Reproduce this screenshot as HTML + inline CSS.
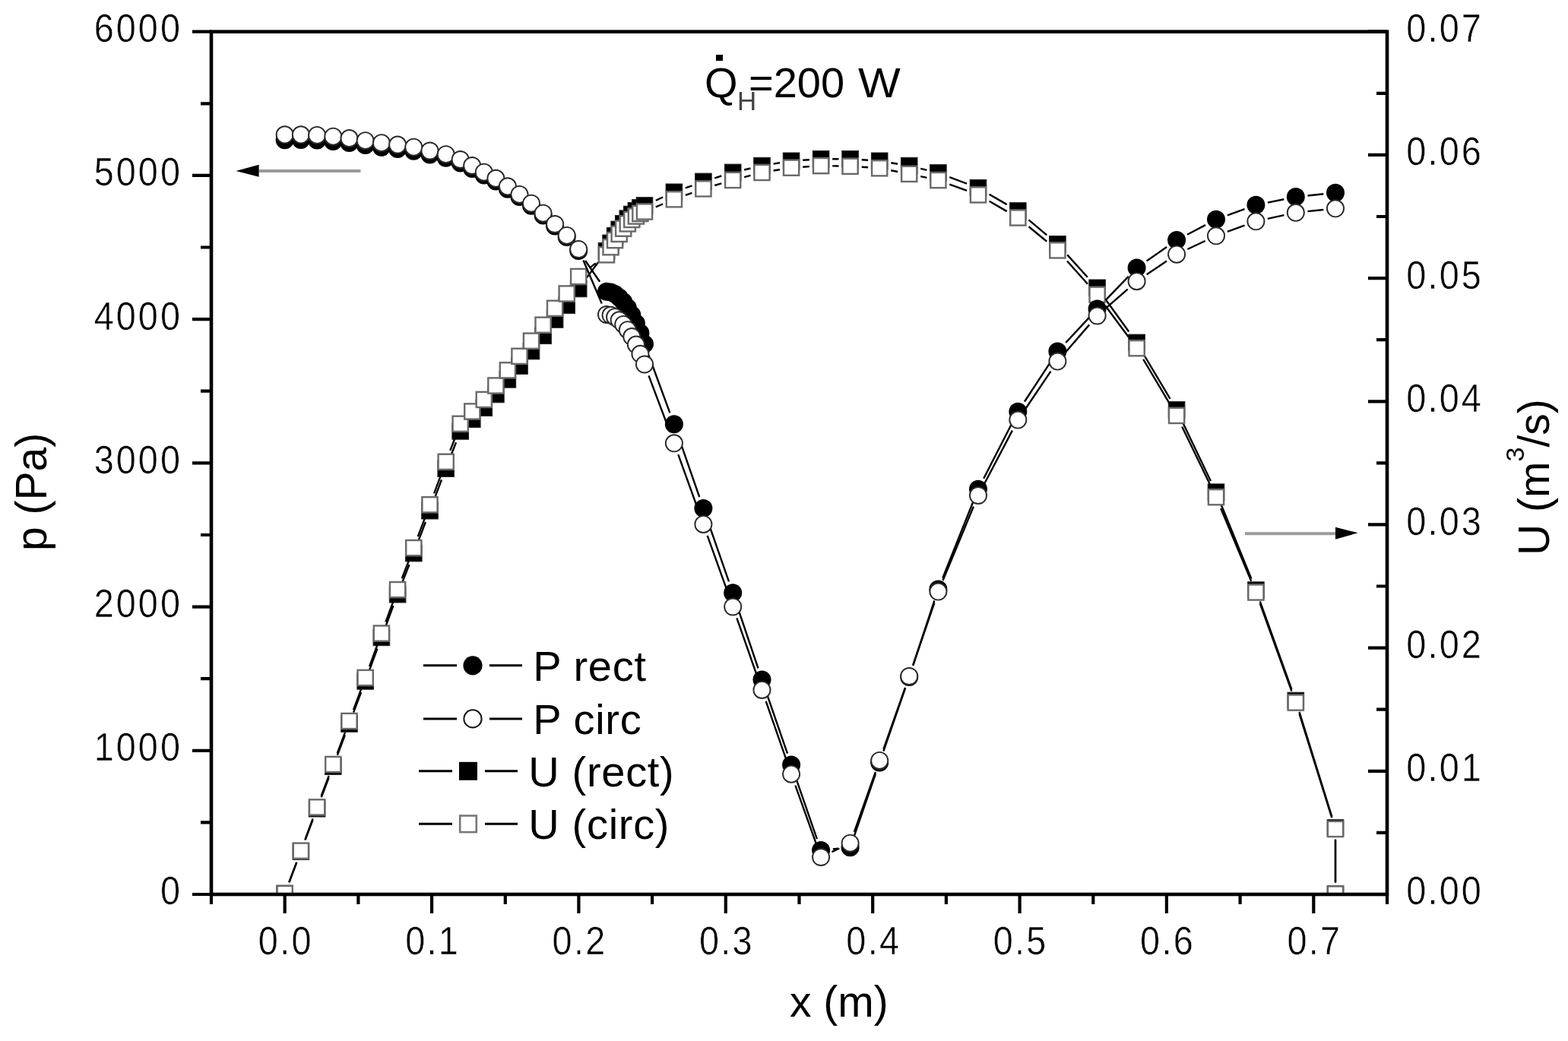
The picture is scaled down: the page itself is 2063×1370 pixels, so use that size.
<!DOCTYPE html>
<html><head><meta charset="utf-8"><title>Q_H = 200 W</title>
<style>html,body{margin:0;padding:0;background:#fff;}svg{display:block;}</style>
</head><body>
<svg width="2063" height="1370" viewBox="0 0 2063 1370">
<rect width="2063" height="1370" fill="#fff"/>
<defs><clipPath id="pa"><rect x="278.0" y="41.7" width="1547.0" height="1135.3"/></clipPath></defs>
<g clip-path="url(#pa)">
<path d="M380.4 1161.2L390.2 1135.4M401.5 1105.7L411.5 1079.0M422.8 1049.3L432.6 1023.5M443.9 993.8L453.9 967.4M465.1 937.7L475.1 911.2M486.2 881.5L496.4 853.7M507.5 824.0L517.5 797.1M528.9 767.4L538.5 743.0M549.9 713.3L559.9 687.0M571.2 657.3L581.0 631.4M592.4 601.7L600.0 582.2M771.8 365.6L787.4 344.7M862.8 263.8L872.1 259.5M901.8 247.4L910.5 244.3M940.3 234.3L949.3 231.5M979.2 223.5L987.5 221.5M1017.6 215.6L1026.0 214.3M1056.2 210.8L1065.0 210.3M1095.2 209.3L1103.5 209.3M1133.7 210.3L1142.1 210.8M1172.3 214.2L1181.1 215.7M1211.2 221.8L1219.4 223.8M1249.3 233.1L1272.1 241.7M1301.6 255.7L1324.7 269.1M1353.5 289.4L1377.2 309.4M1404.2 335.4L1430.8 364.7M1454.0 393.2L1485.2 436.5M1504.2 465.5L1539.5 524.8M1555.2 554.1L1592.9 633.0M1606.0 662.5L1646.4 761.8M1657.8 791.5L1699.4 907.1M1709.5 936.9L1752.3 1074.6M1757.0 1104.6L1757.0 1161.4" stroke="#000" stroke-width="2.4" fill="none"/>
<g fill="#000" stroke="#222" stroke-width="1"><rect x="363.9" y="1165.2" width="21.6" height="21.6"/><rect x="385.1" y="1109.8" width="21.6" height="21.6"/><rect x="406.3" y="1053.4" width="21.6" height="21.6"/><rect x="427.5" y="997.8" width="21.6" height="21.6"/><rect x="448.7" y="941.7" width="21.6" height="21.6"/><rect x="469.9" y="885.6" width="21.6" height="21.6"/><rect x="491.1" y="828.1" width="21.6" height="21.6"/><rect x="512.3" y="771.4" width="21.6" height="21.6"/><rect x="533.5" y="717.3" width="21.6" height="21.6"/><rect x="554.7" y="661.4" width="21.6" height="21.6"/><rect x="575.9" y="605.8" width="21.6" height="21.6"/><rect x="594.9" y="556.6" width="21.6" height="21.6"/><rect x="610.5" y="540.9" width="21.6" height="21.6"/><rect x="626.0" y="525.9" width="21.6" height="21.6"/><rect x="641.6" y="508.2" width="21.6" height="21.6"/><rect x="657.1" y="488.6" width="21.6" height="21.6"/><rect x="672.7" y="470.8" width="21.6" height="21.6"/><rect x="688.2" y="451.3" width="21.6" height="21.6"/><rect x="703.8" y="431.0" width="21.6" height="21.6"/><rect x="719.3" y="409.7" width="21.6" height="21.6"/><rect x="734.9" y="391.0" width="21.6" height="21.6"/><rect x="750.4" y="369.2" width="21.6" height="21.6"/><rect x="787.2" y="319.5" width="21.6" height="21.6"/><rect x="792.8" y="309.1" width="21.6" height="21.6"/><rect x="798.3" y="299.6" width="21.6" height="21.6"/><rect x="803.9" y="291.1" width="21.6" height="21.6"/><rect x="809.4" y="283.5" width="21.6" height="21.6"/><rect x="815.0" y="276.9" width="21.6" height="21.6"/><rect x="820.5" y="271.2" width="21.6" height="21.6"/><rect x="826.1" y="266.4" width="21.6" height="21.6"/><rect x="831.6" y="262.6" width="21.6" height="21.6"/><rect x="837.2" y="259.7" width="21.6" height="21.6"/><rect x="876.1" y="242.0" width="21.6" height="21.6"/><rect x="914.6" y="228.1" width="21.6" height="21.6"/><rect x="953.4" y="216.1" width="21.6" height="21.6"/><rect x="991.7" y="207.3" width="21.6" height="21.6"/><rect x="1030.3" y="201.0" width="21.6" height="21.6"/><rect x="1069.3" y="198.5" width="21.6" height="21.6"/><rect x="1107.8" y="198.5" width="21.6" height="21.6"/><rect x="1146.4" y="201.0" width="21.6" height="21.6"/><rect x="1185.4" y="207.3" width="21.6" height="21.6"/><rect x="1223.6" y="216.7" width="21.6" height="21.6"/><rect x="1276.2" y="236.5" width="21.6" height="21.6"/><rect x="1328.5" y="266.7" width="21.6" height="21.6"/><rect x="1380.6" y="310.5" width="21.6" height="21.6"/><rect x="1432.8" y="368.0" width="21.6" height="21.6"/><rect x="1484.8" y="440.1" width="21.6" height="21.6"/><rect x="1537.3" y="528.6" width="21.6" height="21.6"/><rect x="1589.2" y="636.9" width="21.6" height="21.6"/><rect x="1641.6" y="765.8" width="21.6" height="21.6"/><rect x="1694.0" y="911.2" width="21.6" height="21.6"/><rect x="1746.2" y="1078.7" width="21.6" height="21.6"/><rect x="1746.2" y="1165.7" width="21.6" height="21.6"/></g>
<path d="M380.3 1161.1L390.3 1134.6M401.4 1104.8L411.6 1077.3M422.7 1047.5L432.7 1020.9M443.8 991.1L454.0 963.9M465.0 934.1L475.2 906.9M486.1 877.1L496.5 848.5M507.4 818.7L517.6 791.0M528.8 761.3L538.6 735.9M549.8 706.2L560.0 679.2M571.1 649.4L581.1 622.7M592.3 592.9L600.1 572.7M775.5 352.9L783.7 346.4M862.8 272.3L872.1 268.5M901.8 256.9L910.5 253.8M940.3 244.0L949.3 241.4M979.2 233.1L987.5 230.9M1017.6 224.5L1026.0 223.2M1056.2 219.7L1065.0 219.1M1095.2 218.4L1103.5 218.5M1133.7 219.8L1142.1 220.3M1172.2 224.2L1181.2 226.0M1211.2 232.1L1219.4 233.9M1249.3 242.6L1272.1 250.9M1301.6 264.8L1324.7 278.1M1353.5 298.2L1377.2 317.7M1404.0 343.5L1431.0 373.7M1454.2 402.2L1485.0 443.8M1504.2 472.8L1539.5 532.3M1555.2 561.6L1592.9 639.5M1606.2 669.0L1646.2 764.7M1657.8 794.4L1699.4 909.7M1709.5 939.5L1752.3 1076.1M1757.0 1106.1L1757.0 1161.4" stroke="#000" stroke-width="2.4" fill="none"/>
<g fill="#fff" stroke="#6a6a6a" stroke-width="2.4"><rect x="364.6" y="1165.9" width="20.2" height="20.2"/><rect x="385.8" y="1109.6" width="20.2" height="20.2"/><rect x="407.0" y="1052.3" width="20.2" height="20.2"/><rect x="428.2" y="995.9" width="20.2" height="20.2"/><rect x="449.4" y="938.9" width="20.2" height="20.2"/><rect x="470.6" y="881.9" width="20.2" height="20.2"/><rect x="491.8" y="823.5" width="20.2" height="20.2"/><rect x="513.0" y="766.0" width="20.2" height="20.2"/><rect x="534.2" y="711.0" width="20.2" height="20.2"/><rect x="555.4" y="654.2" width="20.2" height="20.2"/><rect x="576.6" y="597.7" width="20.2" height="20.2"/><rect x="595.6" y="547.7" width="20.2" height="20.2"/><rect x="611.2" y="531.4" width="20.2" height="20.2"/><rect x="626.7" y="515.8" width="20.2" height="20.2"/><rect x="642.3" y="497.4" width="20.2" height="20.2"/><rect x="657.8" y="477.2" width="20.2" height="20.2"/><rect x="673.4" y="458.7" width="20.2" height="20.2"/><rect x="688.9" y="438.6" width="20.2" height="20.2"/><rect x="704.5" y="417.6" width="20.2" height="20.2"/><rect x="720.0" y="395.7" width="20.2" height="20.2"/><rect x="735.6" y="376.4" width="20.2" height="20.2"/><rect x="751.1" y="353.9" width="20.2" height="20.2"/><rect x="787.9" y="325.2" width="20.2" height="20.2"/><rect x="793.5" y="315.1" width="20.2" height="20.2"/><rect x="799.0" y="306.0" width="20.2" height="20.2"/><rect x="804.6" y="297.8" width="20.2" height="20.2"/><rect x="810.1" y="290.6" width="20.2" height="20.2"/><rect x="815.7" y="284.3" width="20.2" height="20.2"/><rect x="821.2" y="278.9" width="20.2" height="20.2"/><rect x="826.8" y="274.4" width="20.2" height="20.2"/><rect x="832.3" y="270.9" width="20.2" height="20.2"/><rect x="837.9" y="268.4" width="20.2" height="20.2"/><rect x="876.8" y="252.2" width="20.2" height="20.2"/><rect x="915.3" y="238.3" width="20.2" height="20.2"/><rect x="954.1" y="226.9" width="20.2" height="20.2"/><rect x="992.4" y="216.9" width="20.2" height="20.2"/><rect x="1031.0" y="210.6" width="20.2" height="20.2"/><rect x="1070.0" y="208.0" width="20.2" height="20.2"/><rect x="1108.5" y="208.7" width="20.2" height="20.2"/><rect x="1147.1" y="211.2" width="20.2" height="20.2"/><rect x="1186.1" y="218.8" width="20.2" height="20.2"/><rect x="1224.3" y="227.0" width="20.2" height="20.2"/><rect x="1276.9" y="246.3" width="20.2" height="20.2"/><rect x="1329.2" y="276.4" width="20.2" height="20.2"/><rect x="1381.3" y="319.3" width="20.2" height="20.2"/><rect x="1433.5" y="377.7" width="20.2" height="20.2"/><rect x="1485.5" y="448.1" width="20.2" height="20.2"/><rect x="1538.0" y="536.8" width="20.2" height="20.2"/><rect x="1589.9" y="644.1" width="20.2" height="20.2"/><rect x="1642.3" y="769.4" width="20.2" height="20.2"/><rect x="1694.7" y="914.5" width="20.2" height="20.2"/><rect x="1746.9" y="1080.9" width="20.2" height="20.2"/><rect x="1746.9" y="1166.4" width="20.2" height="20.2"/></g>
<path d="M770.1 343.0L789.1 370.7M853.5 467.5L881.4 543.4M892.1 573.1L920.2 654.0M930.6 683.8L959.0 765.4M969.2 795.3L997.5 879.5M1007.6 909.4L1036.0 991.6M1046.3 1021.4L1074.9 1104.1M1095.8 1117.4L1102.9 1116.8M1123.8 1100.3L1152.0 1018.4M1162.4 988.6L1191.0 905.9M1201.2 876.0L1229.4 790.5M1240.3 760.8L1281.1 658.5M1294.2 629.7L1332.1 555.8M1348.0 528.5L1382.7 475.7M1402.2 451.0L1432.8 418.1M1454.5 395.2L1484.7 363.9M1508.6 343.5L1535.1 325.0M1562.1 308.7L1586.0 296.1M1614.9 283.4L1637.5 275.2M1667.9 266.6L1689.3 262.3M1720.5 257.5L1741.3 255.3" stroke="#000" stroke-width="2.4" fill="none"/>
<g fill="#000"><circle cx="374.7" cy="184.3" r="12.0"/><circle cx="395.9" cy="184.1" r="12.0"/><circle cx="417.1" cy="184.4" r="12.0"/><circle cx="438.3" cy="186.0" r="12.0"/><circle cx="459.5" cy="188.1" r="12.0"/><circle cx="480.7" cy="191.0" r="12.0"/><circle cx="501.9" cy="193.8" r="12.0"/><circle cx="523.1" cy="195.9" r="12.0"/><circle cx="544.3" cy="198.8" r="12.0"/><circle cx="565.5" cy="203.4" r="12.0"/><circle cx="586.7" cy="207.8" r="12.0"/><circle cx="605.7" cy="214.4" r="12.0"/><circle cx="621.2" cy="222.1" r="12.0"/><circle cx="636.8" cy="230.6" r="12.0"/><circle cx="652.4" cy="238.5" r="12.0"/><circle cx="667.9" cy="248.7" r="12.0"/><circle cx="683.5" cy="259.1" r="12.0"/><circle cx="699.0" cy="270.7" r="12.0"/><circle cx="714.6" cy="283.4" r="12.0"/><circle cx="730.1" cy="297.5" r="12.0"/><circle cx="745.7" cy="312.1" r="12.0"/><circle cx="761.2" cy="330.0" r="12.0"/><circle cx="798.0" cy="383.7" r="12.0"/><circle cx="803.6" cy="384.6" r="12.0"/><circle cx="809.1" cy="387.1" r="12.0"/><circle cx="814.7" cy="391.4" r="12.0"/><circle cx="820.2" cy="397.3" r="12.0"/><circle cx="825.8" cy="405.0" r="12.0"/><circle cx="831.3" cy="414.4" r="12.0"/><circle cx="836.9" cy="425.4" r="12.0"/><circle cx="842.4" cy="438.2" r="12.0"/><circle cx="848.0" cy="452.7" r="12.0"/><circle cx="886.9" cy="558.2" r="12.0"/><circle cx="925.4" cy="668.9" r="12.0"/><circle cx="964.2" cy="780.3" r="12.0"/><circle cx="1002.5" cy="894.5" r="12.0"/><circle cx="1041.1" cy="1006.5" r="12.0"/><circle cx="1080.1" cy="1119.0" r="12.0"/><circle cx="1118.6" cy="1115.2" r="12.0"/><circle cx="1157.2" cy="1003.5" r="12.0"/><circle cx="1196.2" cy="891.0" r="12.0"/><circle cx="1234.4" cy="775.5" r="12.0"/><circle cx="1287.0" cy="643.8" r="12.0"/><circle cx="1339.3" cy="541.7" r="12.0"/><circle cx="1391.4" cy="462.5" r="12.0"/><circle cx="1443.6" cy="406.6" r="12.0"/><circle cx="1495.6" cy="352.5" r="12.0"/><circle cx="1548.1" cy="316.0" r="12.0"/><circle cx="1600.0" cy="288.8" r="12.0"/><circle cx="1652.4" cy="269.8" r="12.0"/><circle cx="1704.8" cy="259.1" r="12.0"/><circle cx="1757.0" cy="253.7" r="12.0"/></g>
<path d="M767.4 342.5L791.8 399.5M853.5 494.3L881.4 568.5M892.3 598.2L920.0 675.0M930.7 704.8L958.9 783.6M969.4 813.4L997.3 893.0M1007.7 922.8L1035.9 1003.8M1046.4 1033.6L1074.8 1113.1M1094.4 1121.2L1104.3 1116.5M1123.9 1094.8L1151.9 1015.8M1162.4 986.0L1191.0 904.9M1201.3 875.1L1229.3 793.5M1240.5 764.0L1280.9 666.6M1294.4 638.0L1331.9 566.6M1348.2 539.5L1382.5 488.7M1401.8 463.7L1433.2 427.4M1455.5 405.1L1483.7 380.6M1508.7 361.3L1535.0 343.6M1562.4 328.0L1585.7 317.0M1614.9 304.9L1637.5 296.7M1667.8 287.9L1689.4 283.2M1720.5 278.1L1741.3 276.0" stroke="#000" stroke-width="2.4" fill="none"/>
<g fill="#fff" stroke="#2a2a2a" stroke-width="1.9"><circle cx="374.7" cy="177.3" r="11.05"/><circle cx="395.9" cy="177.3" r="11.05"/><circle cx="417.1" cy="177.9" r="11.05"/><circle cx="438.3" cy="179.7" r="11.05"/><circle cx="459.5" cy="182.1" r="11.05"/><circle cx="480.7" cy="185.2" r="11.05"/><circle cx="501.9" cy="188.2" r="11.05"/><circle cx="523.1" cy="190.6" r="11.05"/><circle cx="544.3" cy="193.7" r="11.05"/><circle cx="565.5" cy="198.5" r="11.05"/><circle cx="586.7" cy="203.2" r="11.05"/><circle cx="605.7" cy="210.0" r="11.05"/><circle cx="621.2" cy="218.0" r="11.05"/><circle cx="636.8" cy="226.7" r="11.05"/><circle cx="652.4" cy="234.8" r="11.05"/><circle cx="667.9" cy="245.3" r="11.05"/><circle cx="683.5" cy="255.9" r="11.05"/><circle cx="699.0" cy="267.7" r="11.05"/><circle cx="714.6" cy="280.7" r="11.05"/><circle cx="730.1" cy="295.0" r="11.05"/><circle cx="745.7" cy="309.9" r="11.05"/><circle cx="761.2" cy="328.0" r="11.05"/><circle cx="798.0" cy="414.0" r="11.05"/><circle cx="803.6" cy="414.8" r="11.05"/><circle cx="809.1" cy="417.2" r="11.05"/><circle cx="814.7" cy="421.3" r="11.05"/><circle cx="820.2" cy="426.9" r="11.05"/><circle cx="825.8" cy="434.2" r="11.05"/><circle cx="831.3" cy="443.1" r="11.05"/><circle cx="836.9" cy="453.6" r="11.05"/><circle cx="842.4" cy="465.8" r="11.05"/><circle cx="848.0" cy="479.5" r="11.05"/><circle cx="886.9" cy="583.3" r="11.05"/><circle cx="925.4" cy="689.9" r="11.05"/><circle cx="964.2" cy="798.5" r="11.05"/><circle cx="1002.5" cy="907.9" r="11.05"/><circle cx="1041.1" cy="1018.7" r="11.05"/><circle cx="1080.1" cy="1128.0" r="11.05"/><circle cx="1118.6" cy="1109.7" r="11.05"/><circle cx="1157.2" cy="1000.9" r="11.05"/><circle cx="1196.2" cy="890.0" r="11.05"/><circle cx="1234.4" cy="778.6" r="11.05"/><circle cx="1287.0" cy="652.0" r="11.05"/><circle cx="1339.3" cy="552.6" r="11.05"/><circle cx="1391.4" cy="475.6" r="11.05"/><circle cx="1443.6" cy="415.5" r="11.05"/><circle cx="1495.6" cy="370.2" r="11.05"/><circle cx="1548.1" cy="334.7" r="11.05"/><circle cx="1600.0" cy="310.3" r="11.05"/><circle cx="1652.4" cy="291.3" r="11.05"/><circle cx="1704.8" cy="279.8" r="11.05"/><circle cx="1757.0" cy="274.3" r="11.05"/></g>
</g>
<rect x="278.0" y="41.7" width="1547.0" height="1135.3" fill="none" stroke="#000" stroke-width="4.6"/>
<path d="M253.0 1177.0H278.0M264.0 1082.4H278.0M253.0 987.8H278.0M264.0 893.2H278.0M253.0 798.6H278.0M264.0 704.0H278.0M253.0 609.4H278.0M264.0 514.7H278.0M253.0 420.1H278.0M264.0 325.5H278.0M253.0 230.9H278.0M264.0 136.3H278.0M253.0 41.7H278.0M1800.0 1177.0H1825.0M1811.0 1095.9H1825.0M1800.0 1014.8H1825.0M1811.0 933.7H1825.0M1800.0 852.6H1825.0M1811.0 771.5H1825.0M1800.0 690.4H1825.0M1811.0 609.4H1825.0M1800.0 528.3H1825.0M1811.0 447.2H1825.0M1800.0 366.1H1825.0M1811.0 285.0H1825.0M1800.0 203.9H1825.0M1811.0 122.8H1825.0M1800.0 41.7H1825.0M278.0 1177.0V1190.0M374.7 1177.0V1202.0M471.4 1177.0V1190.0M568.1 1177.0V1202.0M664.8 1177.0V1190.0M761.4 1177.0V1202.0M858.1 1177.0V1190.0M954.8 1177.0V1202.0M1051.5 1177.0V1190.0M1148.2 1177.0V1202.0M1244.9 1177.0V1190.0M1341.6 1177.0V1202.0M1438.3 1177.0V1190.0M1534.9 1177.0V1202.0M1631.6 1177.0V1190.0M1728.3 1177.0V1202.0M1825.0 1177.0V1190.0" stroke="#000" stroke-width="4.2" fill="none"/>
<text transform="scale(0.895 1)" x="235.68" y="1190.5" font-family='"Liberation Sans", Arial, Helvetica, sans-serif' font-size="52.3" stroke="#fff" stroke-width="0.5">0</text>
<text transform="scale(0.895 1)" x="138.18 170.68 203.18 235.68" y="1001.3" font-family='"Liberation Sans", Arial, Helvetica, sans-serif' font-size="52.3" stroke="#fff" stroke-width="0.5">1000</text>
<text transform="scale(0.895 1)" x="138.18 170.68 203.18 235.68" y="812.1" font-family='"Liberation Sans", Arial, Helvetica, sans-serif' font-size="52.3" stroke="#fff" stroke-width="0.5">2000</text>
<text transform="scale(0.895 1)" x="138.18 170.68 203.18 235.68" y="622.9" font-family='"Liberation Sans", Arial, Helvetica, sans-serif' font-size="52.3" stroke="#fff" stroke-width="0.5">3000</text>
<text transform="scale(0.895 1)" x="138.18 170.68 203.18 235.68" y="433.6" font-family='"Liberation Sans", Arial, Helvetica, sans-serif' font-size="52.3" stroke="#fff" stroke-width="0.5">4000</text>
<text transform="scale(0.895 1)" x="138.18 170.68 203.18 235.68" y="244.4" font-family='"Liberation Sans", Arial, Helvetica, sans-serif' font-size="52.3" stroke="#fff" stroke-width="0.5">5000</text>
<text transform="scale(0.895 1)" x="138.18 170.68 203.18 235.68" y="55.2" font-family='"Liberation Sans", Arial, Helvetica, sans-serif' font-size="52.3" stroke="#fff" stroke-width="0.5">6000</text>
<text transform="scale(0.895 1)" x="2067.18 2098.83 2115.92 2148.42" y="1190.5" font-family='"Liberation Sans", Arial, Helvetica, sans-serif' font-size="52.3" stroke="#fff" stroke-width="0.5">0.00</text>
<text transform="scale(0.895 1)" x="2067.18 2098.83 2115.92 2148.42" y="1028.3" font-family='"Liberation Sans", Arial, Helvetica, sans-serif' font-size="52.3" stroke="#fff" stroke-width="0.5">0.01</text>
<text transform="scale(0.895 1)" x="2067.18 2098.83 2115.92 2148.42" y="866.1" font-family='"Liberation Sans", Arial, Helvetica, sans-serif' font-size="52.3" stroke="#fff" stroke-width="0.5">0.02</text>
<text transform="scale(0.895 1)" x="2067.18 2098.83 2115.92 2148.42" y="703.9" font-family='"Liberation Sans", Arial, Helvetica, sans-serif' font-size="52.3" stroke="#fff" stroke-width="0.5">0.03</text>
<text transform="scale(0.895 1)" x="2067.18 2098.83 2115.92 2148.42" y="541.8" font-family='"Liberation Sans", Arial, Helvetica, sans-serif' font-size="52.3" stroke="#fff" stroke-width="0.5">0.04</text>
<text transform="scale(0.895 1)" x="2067.18 2098.83 2115.92 2148.42" y="379.6" font-family='"Liberation Sans", Arial, Helvetica, sans-serif' font-size="52.3" stroke="#fff" stroke-width="0.5">0.05</text>
<text transform="scale(0.895 1)" x="2067.18 2098.83 2115.92 2148.42" y="217.4" font-family='"Liberation Sans", Arial, Helvetica, sans-serif' font-size="52.3" stroke="#fff" stroke-width="0.5">0.06</text>
<text transform="scale(0.895 1)" x="2067.18 2098.83 2115.92 2148.42" y="55.2" font-family='"Liberation Sans", Arial, Helvetica, sans-serif' font-size="52.3" stroke="#fff" stroke-width="0.5">0.07</text>
<text transform="scale(0.895 1)" x="379.73 411.38 428.47" y="1256.3" font-family='"Liberation Sans", Arial, Helvetica, sans-serif' font-size="52.3" stroke="#fff" stroke-width="0.5">0.0</text>
<text transform="scale(0.895 1)" x="595.79 627.44 644.53" y="1256.3" font-family='"Liberation Sans", Arial, Helvetica, sans-serif' font-size="52.3" stroke="#fff" stroke-width="0.5">0.1</text>
<text transform="scale(0.895 1)" x="811.86 843.50 860.59" y="1256.3" font-family='"Liberation Sans", Arial, Helvetica, sans-serif' font-size="52.3" stroke="#fff" stroke-width="0.5">0.2</text>
<text transform="scale(0.895 1)" x="1027.92 1059.57 1076.65" y="1256.3" font-family='"Liberation Sans", Arial, Helvetica, sans-serif' font-size="52.3" stroke="#fff" stroke-width="0.5">0.3</text>
<text transform="scale(0.895 1)" x="1243.98 1275.63 1292.71" y="1256.3" font-family='"Liberation Sans", Arial, Helvetica, sans-serif' font-size="52.3" stroke="#fff" stroke-width="0.5">0.4</text>
<text transform="scale(0.895 1)" x="1460.04 1491.69 1508.78" y="1256.3" font-family='"Liberation Sans", Arial, Helvetica, sans-serif' font-size="52.3" stroke="#fff" stroke-width="0.5">0.5</text>
<text transform="scale(0.895 1)" x="1676.10 1707.75 1724.84" y="1256.3" font-family='"Liberation Sans", Arial, Helvetica, sans-serif' font-size="52.3" stroke="#fff" stroke-width="0.5">0.6</text>
<text transform="scale(0.895 1)" x="1892.16 1923.81 1940.90" y="1256.3" font-family='"Liberation Sans", Arial, Helvetica, sans-serif' font-size="52.3" stroke="#fff" stroke-width="0.5">0.7</text>
<text x="1039" y="1337.5" font-family='"Liberation Sans", Arial, Helvetica, sans-serif' font-size="57">x (m)</text>
<text transform="translate(60.5 725) rotate(-90)" font-family='"Liberation Sans", Arial, Helvetica, sans-serif' font-size="57">p (Pa)</text>
<text transform="translate(2037.7 731) rotate(-90)" font-family='"Liberation Sans", Arial, Helvetica, sans-serif' font-size="57">U (m<tspan dy="-33" font-size="34">3</tspan><tspan dy="33">/s)</tspan></text>
<text x="927" y="128.3" font-family='"Liberation Sans", Arial, Helvetica, sans-serif' font-size="56">Q</text>
<rect x="942" y="72" width="9" height="8" fill="#000"/>
<text x="970" y="145" font-family='"Liberation Sans", Arial, Helvetica, sans-serif' font-size="35" fill="#444">H</text>
<text x="985" y="128.3" font-family='"Liberation Sans", Arial, Helvetica, sans-serif' font-size="56">=200</text>
<text transform="translate(1129 128.3) scale(1.055 1)" font-family='"Liberation Sans", Arial, Helvetica, sans-serif' font-size="56">W</text>
<path d="M340.6 224.9H474.5" stroke="#9a9a9a" stroke-width="4"/>
<path d="M310.5 225L340.6 216.8V232.8Z" fill="#000"/>
<path d="M1638 702.3H1757" stroke="#9a9a9a" stroke-width="4"/>
<path d="M1786.6 701.3L1757 693.8V709.7Z" fill="#000"/>
<path d="M557 875.8H601M644 875.8H687" stroke="#000" stroke-width="3"/>
<circle cx="622" cy="875.8" r="12.6" fill="#000"/>
<text x="701.2" y="895.6" font-family='"Liberation Sans", Arial, Helvetica, sans-serif' font-size="56" letter-spacing="0.7">P rect</text>
<path d="M557 945.9H601M644 945.9H687" stroke="#000" stroke-width="3"/>
<circle cx="622" cy="945.9" r="11.6" fill="#fff" stroke="#111" stroke-width="2"/>
<text x="701.2" y="965.7" font-family='"Liberation Sans", Arial, Helvetica, sans-serif' font-size="56" letter-spacing="0.7">P circ</text>
<path d="M551 1014.8H595M638 1014.8H681" stroke="#000" stroke-width="3"/>
<rect x="604" y="1002.8" width="24" height="24" fill="#000"/>
<text x="695.2" y="1034.6" font-family='"Liberation Sans", Arial, Helvetica, sans-serif' font-size="56" letter-spacing="0.7">U (rect)</text>
<path d="M551 1084.3H595M638 1084.3H681" stroke="#000" stroke-width="3"/>
<rect x="605.2" y="1073.5" width="21.6" height="21.6" fill="#fff" stroke="#777" stroke-width="2.6"/>
<text x="695.2" y="1104.1" font-family='"Liberation Sans", Arial, Helvetica, sans-serif' font-size="56" letter-spacing="0.7">U (circ)</text>
</svg>
</body></html>
